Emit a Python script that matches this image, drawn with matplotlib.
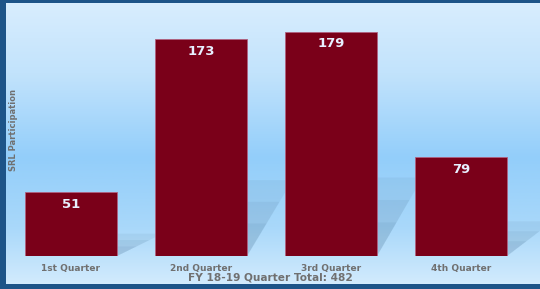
import matplotlib.pyplot as plt
import numpy as np
from matplotlib.patches import Polygon
from matplotlib.colors import LinearSegmentedColormap

quarters = ['1st Quarter', '2nd Quarter', '3rd Quarter', '4th Quarter']
participation = [51, 173, 179, 79]
title = 'FY 18-19 Quarter Total: 482'

W, H = 540, 289
fig = plt.figure(figsize=(W / 100, H / 100), dpi=100)
fig.patch.set_facecolor('#1d5488')

# light blue gradient panel (top -> bottom)
bg = fig.add_axes([6 / W, 5 / H, 1 - 6 / W, 1 - 8 / H])
bg.set_axis_off()
cmap = LinearSegmentedColormap.from_list('panel', [
    (0.0, '#d8edfe'), (0.25, '#c2e3fc'), (0.55, '#93cefa'),
    (0.8, '#a9d8fa'), (1.0, '#d2ebfd')])
grad = np.linspace(0, 1, 256).reshape(-1, 1)
bg.imshow(grad, aspect='auto', cmap=cmap, origin='upper', extent=[0, 1, 0, 1])
bg.set_xlim(0, 1)
bg.set_ylim(0, 1)

ax = fig.add_axes([6 / W, (H - 256) / H, 1 - 6 / W, 253 / H])
ax.patch.set_alpha(0)
x = np.arange(len(quarters))
ax.set_xlim(-0.5, 3.608)
ax.set_ylim(0, 201.9)

# soft slanted shadows behind bars
width = 0.708
for xi, v in zip(x, participation):
    l = xi - width / 2
    r = xi + width / 2
    for k in [0.35, 0.25, 0.15]:
        h = v * k
        shadow = Polygon([(l + 0.1, 0), (r, 0), (r + k, h), (l + 0.1 + k, h)],
                         closed=True, facecolor='#4f7a9e', alpha=0.1, edgecolor='none', zorder=1)
        ax.add_patch(shadow)

bars = ax.bar(x, participation, width=width, color='#7a0019', edgecolor='#b06080',
              linewidth=0.6, zorder=2)
for xi, v in zip(x, participation):
    ax.annotate(str(v), (xi, v), textcoords='offset points', xytext=(0, -8.8),
                ha='center', va='center', color='#e8f0ff', fontsize=9.5, fontweight='bold', zorder=3)

ax.set_xticks(x)
ax.set_xticklabels(quarters, fontsize=6.5, fontweight='bold', color='#707070')
ax.tick_params(axis='x', length=0, pad=6)
ax.set_yticks([])
for s in ax.spines.values():
    s.set_visible(False)

fig.text(14 / W, 1 - 130 / H, 'SRL Participation', rotation=90, ha='center', va='center',
         fontsize=6, fontweight='bold', color='#707070')
fig.text(270 / W, 1 - 277 / H, title, ha='center', va='center',
         fontsize=7.6, fontweight='bold', color='#707070')

fig.savefig('out.png', dpi=100, facecolor=fig.get_facecolor())
